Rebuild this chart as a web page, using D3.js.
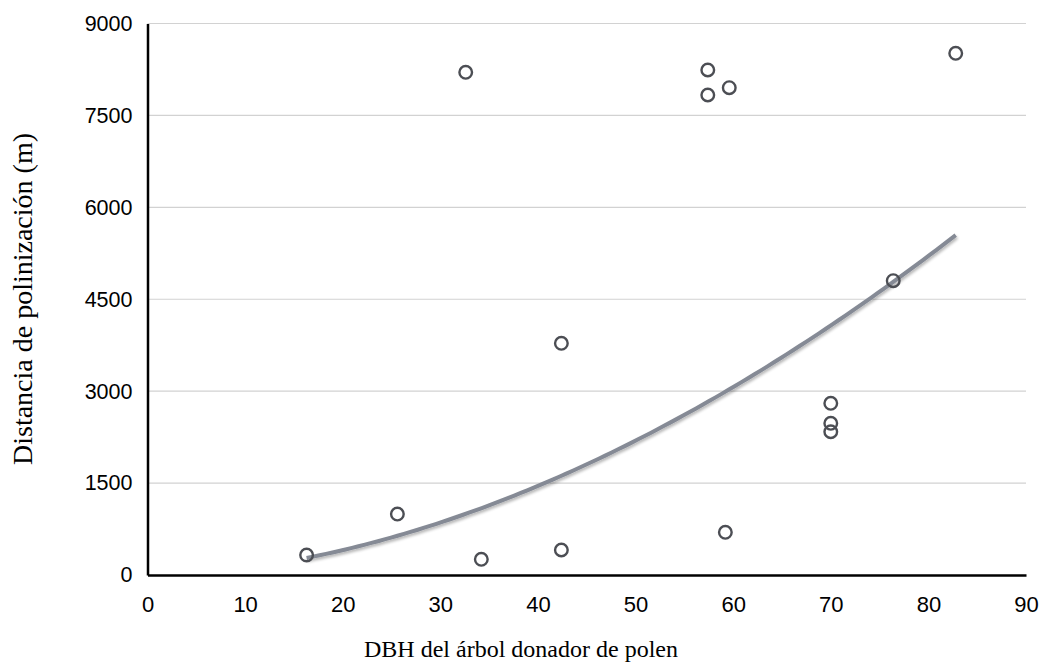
<!DOCTYPE html>
<html>
<head>
<meta charset="utf-8">
<script src="https://cdn.jsdelivr.net/npm/d3@7"></script>
<style>
  html, body { margin: 0; padding: 0; background: #ffffff; }
  svg { display: block; }
</style>
</head>
<body>
<svg id="chart" width="1042" height="666"></svg>
<script>
// Diámetro (DBH) del árbol donador vs. distancia de polinización
const dbh = [16.3, 25.6, 32.6, 34.2, 42.4, 42.4, 57.4, 57.4, 59.6, 59.2, 70.0, 70.0, 70.0, 76.4, 82.8];
const distancia = [326, 995, 8204, 256, 3781, 408, 8241, 7833, 7952, 697, 2802, 2476, 2338, 4803, 8514];

// Tendencia potencial y = a·x^b
const trendA = 1.64;
const trendB = 1.84;

const xTicks = [0, 10, 20, 30, 40, 50, 60, 70, 80, 90];
const yTicks = [0, 1500, 3000, 4500, 6000, 7500, 9000];

const svg = d3.select("#chart");
const plotLeft = 147.5, plotRight = 1026, plotTop = 23.5, plotBottom = 575;

const x = d3.scaleLinear().domain([0, 90]).range([plotLeft, plotRight]);
const y = d3.scaleLinear().domain([0, 9000]).range([plotBottom, plotTop]);

// Drop shadow for the trend line
const defs = svg.append("defs");
const f = defs.append("filter").attr("id", "shadow")
  .attr("x", "-5%").attr("y", "-5%").attr("width", "110%").attr("height", "120%");
f.append("feGaussianBlur").attr("in", "SourceAlpha").attr("stdDeviation", 1.5).attr("result", "b");
f.append("feOffset").attr("in", "b").attr("dx", 1).attr("dy", 2).attr("result", "o");
f.append("feComponentTransfer").attr("in", "o").attr("result", "s")
  .append("feFuncA").attr("type", "linear").attr("slope", 0.3);
const m = f.append("feMerge");
m.append("feMergeNode").attr("in", "s");
m.append("feMergeNode").attr("in", "SourceGraphic");

// Horizontal gridlines
svg.append("g")
  .selectAll("line")
  .data(yTicks.filter(d => d > 0))
  .join("line")
  .attr("x1", plotLeft).attr("x2", plotRight)
  .attr("y1", d => y(d)).attr("y2", d => y(d))
  .attr("stroke", "#d2d2d2").attr("stroke-width", 1.2);

// Axes
const yAxis = d3.axisLeft(y).tickValues(yTicks).tickFormat(d3.format("d"))
  .tickSize(0).tickPadding(15);
const gy = svg.append("g").attr("transform", `translate(${plotLeft},0)`).call(yAxis);
gy.select(".domain").attr("stroke", "#000").attr("stroke-width", 2.5);
gy.selectAll("text")
  .attr("font-family", "'Liberation Sans', Arial, Helvetica, sans-serif")
  .attr("font-size", 21.5).attr("fill", "#000");

const xAxis = d3.axisBottom(x).tickValues(xTicks).tickFormat(d3.format("d"))
  .tickSize(0).tickPadding(21);
const gx = svg.append("g").attr("transform", `translate(0,${plotBottom})`).call(xAxis);
gx.select(".domain").attr("stroke", "#000").attr("stroke-width", 2.5);
gx.selectAll("text")
  .attr("font-family", "'Liberation Sans', Arial, sans-serif")
  .attr("font-size", 22).attr("fill", "#000");

// Trend line across the observed DBH range
const xmin = d3.min(dbh), xmax = d3.max(dbh);
const trend = d3.range(0, 101).map(i => {
  const xv = xmin + (xmax - xmin) * i / 100;
  return [xv, trendA * Math.pow(xv, trendB)];
});
svg.append("path")
  .datum(trend)
  .attr("fill", "none")
  .attr("stroke", "#858a95")
  .attr("stroke-width", 4)
  .attr("stroke-linecap", "butt")
  .attr("filter", "url(#shadow)")
  .attr("d", d3.line().x(d => x(d[0])).y(d => y(d[1])));

// Observations
svg.append("g")
  .selectAll("circle")
  .data(dbh.map((d, i) => [d, distancia[i]]))
  .join("circle")
  .attr("cx", d => x(d[0]))
  .attr("cy", d => y(d[1]))
  .attr("r", 6.3)
  .attr("fill", "none")
  .attr("stroke", "#4c4e54")
  .attr("stroke-width", 2.4);

// Axis titles
svg.append("text")
  .attr("x", 521).attr("y", 657)
  .attr("text-anchor", "middle")
  .attr("font-family", "'Liberation Serif', 'Times New Roman', serif")
  .attr("font-size", 24)
  .text("DBH del árbol donador de polen");

svg.append("text")
  .attr("transform", "translate(32,299) rotate(-90)")
  .attr("text-anchor", "middle")
  .attr("font-family", "'Liberation Serif', 'Times New Roman', serif")
  .attr("font-size", 28)
  .text("Distancia de polinización (m)");
</script>
</body>
</html>
